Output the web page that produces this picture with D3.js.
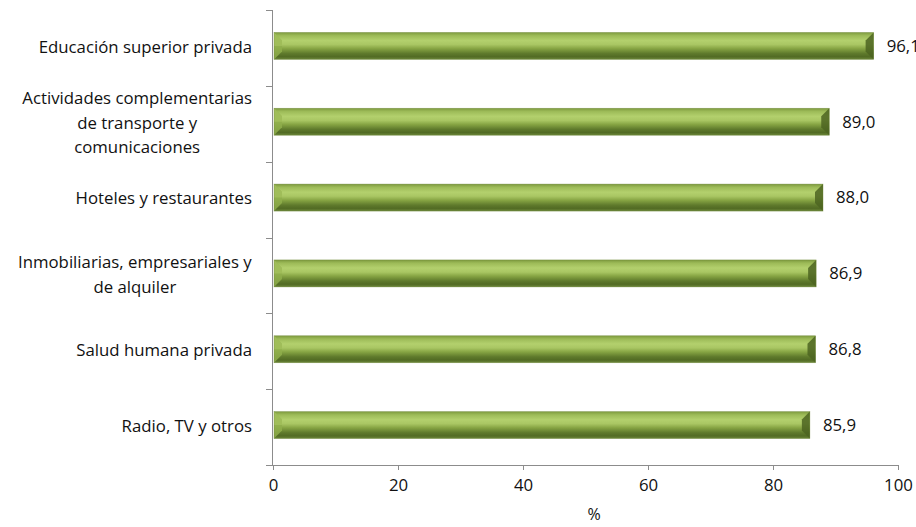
<!DOCTYPE html>
<html><head><meta charset="utf-8">
<script src="https://cdn.jsdelivr.net/npm/d3@7/dist/d3.min.js"></script>
<style>
html,body{margin:0;padding:0;background:#fff;overflow:hidden;}
svg{display:block;}
text{font-family:"Open Sans",sans-serif;fill:#111;}
</style></head>
<body>
<svg id="chart" width="916" height="527"></svg>
<script>
const categories = [
  ["Educación superior  privada"],
  ["Actividades complementarias", "de transporte y", "comunicaciones"],
  ["Hoteles y restaurantes"],
  ["Inmobiliarias, empresariales y", "de alquiler"],
  ["Salud humana privada"],
  ["Radio, TV y otros"]
];
const values = [96.1, 89.0, 88.0, 86.9, 86.8, 85.9];
const xTicks = [0, 20, 40, 60, 80, 100];
const xTitle = "%";

const FS = "16.8px";
const svg = d3.select("#chart");
const x = d3.scaleLinear().domain([0, 100]).range([273, 898]);
const y = d3.scaleBand().domain(d3.range(values.length)).range([10, 465]);
const barH = 27;

const defs = svg.append("defs");
const g1 = defs.append("linearGradient").attr("id", "barg").attr("x1", 0).attr("y1", 0).attr("x2", 0).attr("y2", 1);
[[0, "#7d9a3e"], [0.12, "#9dbb58"], [0.3, "#b3d06d"], [0.45, "#a9c663"], [0.6, "#86a443"], [0.78, "#5f7a2c"], [0.9, "#526b24"], [1, "#6c873a"]]
  .forEach(([o, c]) => g1.append("stop").attr("offset", o).attr("stop-color", c));

// axes
const axisColor = "#8c8c8c";
const xAxis = svg.append("g").attr("transform", "translate(0,465)")
  .call(d3.axisBottom(x).tickValues(xTicks).tickSize(5).tickPadding(9).tickFormat(d3.format("d")));
xAxis.select(".domain").attr("stroke", axisColor).attr("d", `M${x(0)-7},0.5H${x(100)}`);
xAxis.selectAll(".tick line").attr("stroke", axisColor);
xAxis.selectAll(".tick text").style("font-size", FS).style("fill", "#111").style("font-family", "'Open Sans',sans-serif");

// y axis line and ticks at band boundaries
const bounds = d3.range(values.length + 1).map(i => 10 + i * y.step());
svg.append("line").attr("x1", 272.5).attr("x2", 272.5).attr("y1", 10).attr("y2", 465).attr("stroke", axisColor);
svg.selectAll(".yt").data(bounds.slice(0, -1)).join("line")
  .attr("x1", 266).attr("x2", 273).attr("y1", d => Math.round(d) + 0.5).attr("y2", d => Math.round(d) + 0.5)
  .attr("stroke", axisColor);

// bars
const bars = svg.append("g");
values.forEach((v, i) => {
  const cy = y(i) + y.bandwidth() / 2 - 2;
  const y0 = cy - barH / 2, x0 = x(0) + 1, x1 = x(v);
  bars.append("rect").attr("x", x0).attr("y", y0).attr("width", x1 - x0).attr("height", barH)
    .attr("fill", "url(#barg)");
  const b = 8;
  bars.append("path").attr("d", `M${x0},${y0}L${x0+b},${y0+b}L${x0+b},${y0+barH-b}L${x0},${y0+barH}Z`)
    .attr("fill", "#8fae4b").attr("opacity", 0.85);
  bars.append("path").attr("d", `M${x0},${y0}L${x0+b},${y0+b}L${x0+b},${cy}L${x0},${cy}Z`)
    .attr("fill", "#a5c25e").attr("opacity", 0.7);
  bars.append("path").attr("d", `M${x1},${y0}L${x1-b},${y0+b}L${x1-b},${y0+barH-b}L${x1},${y0+barH}Z`)
    .attr("fill", "#4c6421").attr("opacity", 0.85);
  bars.append("rect").attr("x", x0).attr("y", y0).attr("width", x1 - x0).attr("height", barH)
    .attr("fill", "none").attr("stroke", "#6a8436").attr("stroke-width", 0.6).attr("opacity", 0.6);
  svg.append("text").attr("x", x1 + 13).attr("y", cy).attr("dy", "0.35em")
    .style("font-size", FS).text(d3.format(".1f")(v).replace(".", ","));
});

// category labels
const lh = 24.5;
categories.forEach((lines, i) => {
  const cy = y(i) + y.bandwidth() / 2 - 1;
  const t = svg.append("text").attr("text-anchor", "middle").style("font-size", FS);
  const n = lines.length;
  lines.forEach((ln, j) => {
    t.append("tspan").attr("x", 0).attr("y", cy + (j - (n - 1) / 2) * lh).attr("dy", "0.35em").text(ln);
  });
  const w = t.node().getBBox().width;
  t.attr("transform", `translate(${252 - w / 2},0)`);
});

svg.append("text").attr("x", 594).attr("y", 514).attr("dy", "0.35em").attr("text-anchor", "middle")
  .style("font-size", "16px").text(xTitle);
</script>
</body></html>
